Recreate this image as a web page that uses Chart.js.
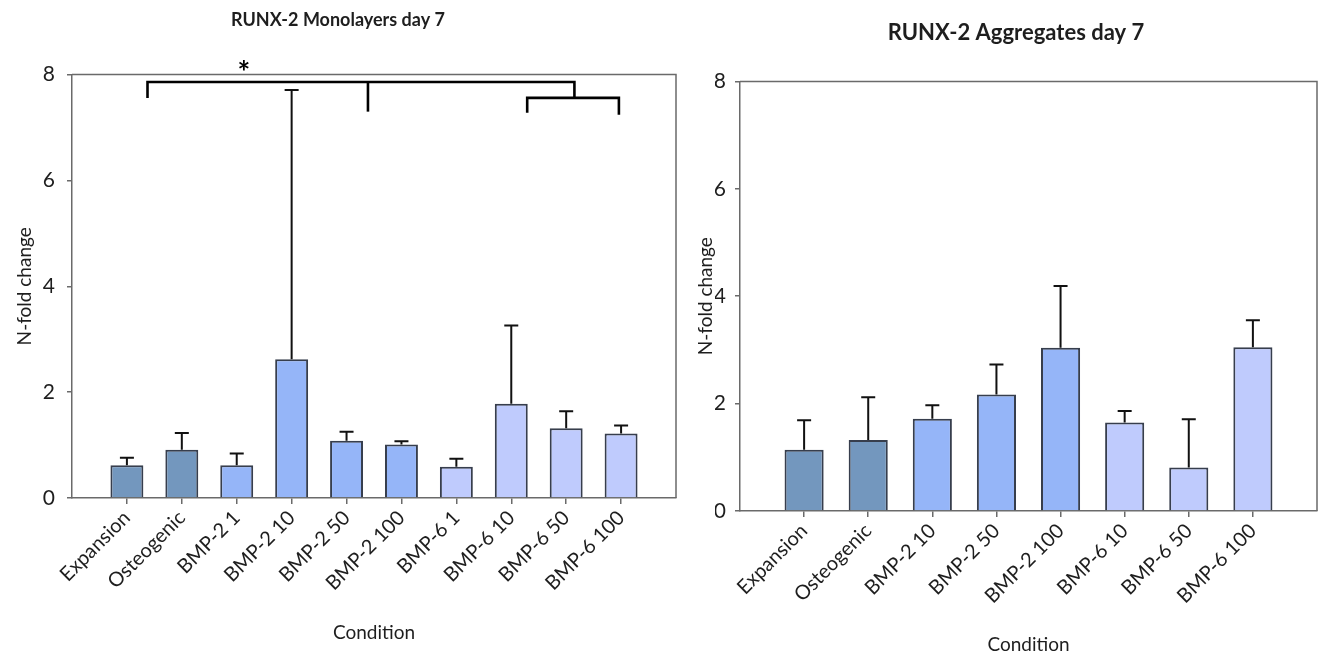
<!DOCTYPE html>
<html>
<head>
<meta charset="utf-8">
<script src="https://cdn.jsdelivr.net/npm/chart.js@4/dist/chart.umd.min.js"></script>
<style>
  html, body { margin: 0; padding: 0; background: #fff; }
  .panel { position: absolute; top: 0; height: 658px; }
  #left { left: 0; width: 680px; }
  #right { left: 680px; width: 639px; }
</style>
</head>
<body>
<div class="panel" id="left"><canvas id="mono"></canvas></div>
<div class="panel" id="right"><canvas id="aggr"></canvas></div>
<script>
// monolayers, day 7
const monoLabels = ['Expansion', 'Osteogenic', 'BMP-2 1', 'BMP-2 10', 'BMP-2 50', 'BMP-2 100', 'BMP-6 1', 'BMP-6 10', 'BMP-6 50', 'BMP-6 100'];
const monoMeans = [0.62, 0.91, 0.62, 2.62, 1.08, 1.01, 0.59, 1.78, 1.32, 1.22];
const monoErrors = [0.14, 0.32, 0.22, 5.09, 0.17, 0.06, 0.15, 1.48, 0.32, 0.15];
const monoGroups = ['ctrl', 'ctrl', 'bmp2', 'bmp2', 'bmp2', 'bmp2', 'bmp6', 'bmp6', 'bmp6', 'bmp6'];

// aggregates, day 7
const aggrLabels = ['Expansion', 'Osteogenic', 'BMP-2 10', 'BMP-2 50', 'BMP-2 100', 'BMP-6 10', 'BMP-6 50', 'BMP-6 100'];
const aggrMeans = [1.14, 1.32, 1.72, 2.17, 3.04, 1.65, 0.81, 3.05];
const aggrErrors = [0.55, 0.80, 0.25, 0.56, 1.15, 0.21, 0.90, 0.50];
const aggrGroups = ['ctrl', 'ctrl', 'bmp2', 'bmp2', 'bmp2', 'bmp6', 'bmp6', 'bmp6'];

const yTicks = [0, 2, 4, 6, 8];

// significance bracket on the monolayer chart (x in category units, y in fold change)
const bracketLines = [
  [[0.375, 7.56], [0.375, 7.86], [8.15, 7.86], [8.15, 7.56]],
  [[4.39, 7.86], [4.39, 7.30]],
  [[7.29, 7.28], [7.29, 7.56], [8.96, 7.56], [8.96, 7.24]]
];
const bracketStar = { x: 2.13, y: 8.15, text: '*' };

const groupColors = { ctrl: '#7397be', bmp2: '#95b5f8', bmp6: '#bfcbfd' };
const FONT = 'Lato, "Open Sans", sans-serif';
const TEXT = '#1e1e1e';
const AXIS = '#6a6a6a';

// frame round the plot + error bars + bracket
const extras = {
  id: 'extras',
  afterDatasetsDraw(chart) {
    const ctx = chart.ctx;
    const a = chart.chartArea;
    const xs = chart.scales.x, ys = chart.scales.y;
    ctx.save();
    ctx.strokeStyle = AXIS;
    ctx.lineWidth = 1.5;
    ctx.beginPath();
    ctx.moveTo(a.left, a.top);
    ctx.lineTo(a.right, a.top);
    ctx.lineTo(a.right, a.bottom);
    ctx.stroke();

    const ds = chart.data.datasets[0];
    const meta = chart.getDatasetMeta(0);
    ctx.strokeStyle = '#111';
    ctx.lineWidth = 2;
    meta.data.forEach((bar, i) => {
      const top = ys.getPixelForValue(ds.data[i].y);
      const hi = ys.getPixelForValue(ds.data[i].y + ds.errors[i]);
      ctx.beginPath();
      ctx.moveTo(bar.x, top);
      ctx.lineTo(bar.x, hi);
      ctx.moveTo(bar.x - 7, hi);
      ctx.lineTo(bar.x + 7, hi);
      ctx.stroke();
    });

    const br = chart.options.plugins.extras;
    if (br && br.lines) {
      ctx.strokeStyle = '#000';
      ctx.lineWidth = 2.6;
      br.lines.forEach(line => {
        ctx.beginPath();
        line.forEach((p, k) => {
          const px = xs.getPixelForValue(p[0]), py = ys.getPixelForValue(p[1]);
          if (k === 0) ctx.moveTo(px, py); else ctx.lineTo(px, py);
        });
        ctx.stroke();
      });
      ctx.fillStyle = '#000';
      ctx.font = 'bold 30px ' + FONT;
      ctx.textAlign = 'center';
      ctx.textBaseline = 'middle';
      ctx.fillText(br.star.text, xs.getPixelForValue(br.star.x), ys.getPixelForValue(br.star.y) + 7);
    }
    ctx.restore();
  }
};

let drawPanel = function(id, title, labels, means, errors, groups, opt) {
  const data = {
    datasets: [{
      data: means.map((v, i) => ({ x: i, y: v })),
      errors: errors,
      backgroundColor: groups.map(g => groupColors[g]),
      borderColor: '#373e4d',
      borderWidth: 2,
      barPercentage: opt.barPct,
      categoryPercentage: 1
    }]
  };
  const config = {
    type: 'bar',
    data: data,
    options: {
      responsive: true,
      maintainAspectRatio: false,
      animation: false,
      layout: { padding: opt.pad },
      plugins: {
        legend: { display: false },
        tooltip: { enabled: false },
        title: {
          display: true,
          text: title,
          color: TEXT,
          font: { family: FONT, size: opt.titleSize, weight: 'bold' },
          padding: opt.titlePad
        },
        extras: opt.bracket || {}
      },
      scales: {
        x: {
          type: 'linear',
          offset: false,
          min: -1,
          max: labels.length,
          afterBuildTicks: (s) => { s.ticks = labels.map((l, i) => ({ value: i })); },
          afterFit: (s) => { s.height = opt.xHeight; },
          grid: { offset: false, drawOnChartArea: false, drawTicks: true, tickLength: 6, tickColor: AXIS, lineWidth: 1.5 },
          border: { display: true, color: AXIS, width: 1.5 },
          ticks: {
            autoSkip: false,
            maxRotation: 45,
            minRotation: 45,
            padding: 2,
            color: TEXT,
            font: { family: FONT, size: 20 },
            callback: (v) => labels[v]
          },
          title: {
            display: true,
            text: 'Condition',
            color: TEXT,
            font: { family: FONT, size: 19 },
            padding: { top: 0, bottom: opt.xTitlePad }
          }
        },
        y: {
          min: 0,
          max: 8,
          afterBuildTicks: (s) => { s.ticks = yTicks.map(v => ({ value: v })); },
          afterFit: (s) => { s.width = opt.yWidth; },
          grid: { drawOnChartArea: false, drawTicks: true, tickLength: 5, tickColor: AXIS, lineWidth: 1.5 },
          border: { display: true, color: AXIS, width: 1.5 },
          ticks: {
            padding: opt.yTickPad,
            color: TEXT,
            font: { family: FONT, size: 21 }
          },
          title: {
            display: true,
            text: 'N-fold change',
            color: TEXT,
            font: { family: FONT, size: 19 },
            padding: { top: opt.yTitlePad, bottom: 0 }
          }
        }
      }
    },
    plugins: [extras]
  };
  return new Chart(document.getElementById(id), config);
};

drawPanel('mono', 'RUNX-2 Monolayers day 7', monoLabels, monoMeans, monoErrors, monoGroups, {
  barPct: 0.6,
  pad: { left: 0, right: 4, top: 0, bottom: 0 },
  titleSize: 18,
  titlePad: { top: 9, bottom: 44 },
  xHeight: 160,
  xTitlePad: 13.6,
  yWidth: 72,
  yTickPad: 12,
  yTitlePad: 13.6,
  bracket: { lines: bracketLines, star: bracketStar }
});

drawPanel('aggr', 'RUNX-2 Aggregates day 7', aggrLabels, aggrMeans, aggrErrors, aggrGroups, {
  barPct: 0.61,
  pad: { left: 35, right: 2, top: 0, bottom: 0 },
  titleSize: 22,
  titlePad: { top: 20, bottom: 35 },
  xHeight: 147,
  xTitlePad: 1.6,
  yWidth: 25,
  yTickPad: 9,
  yTitlePad: -20.4
});
</script>
</body>
</html>
